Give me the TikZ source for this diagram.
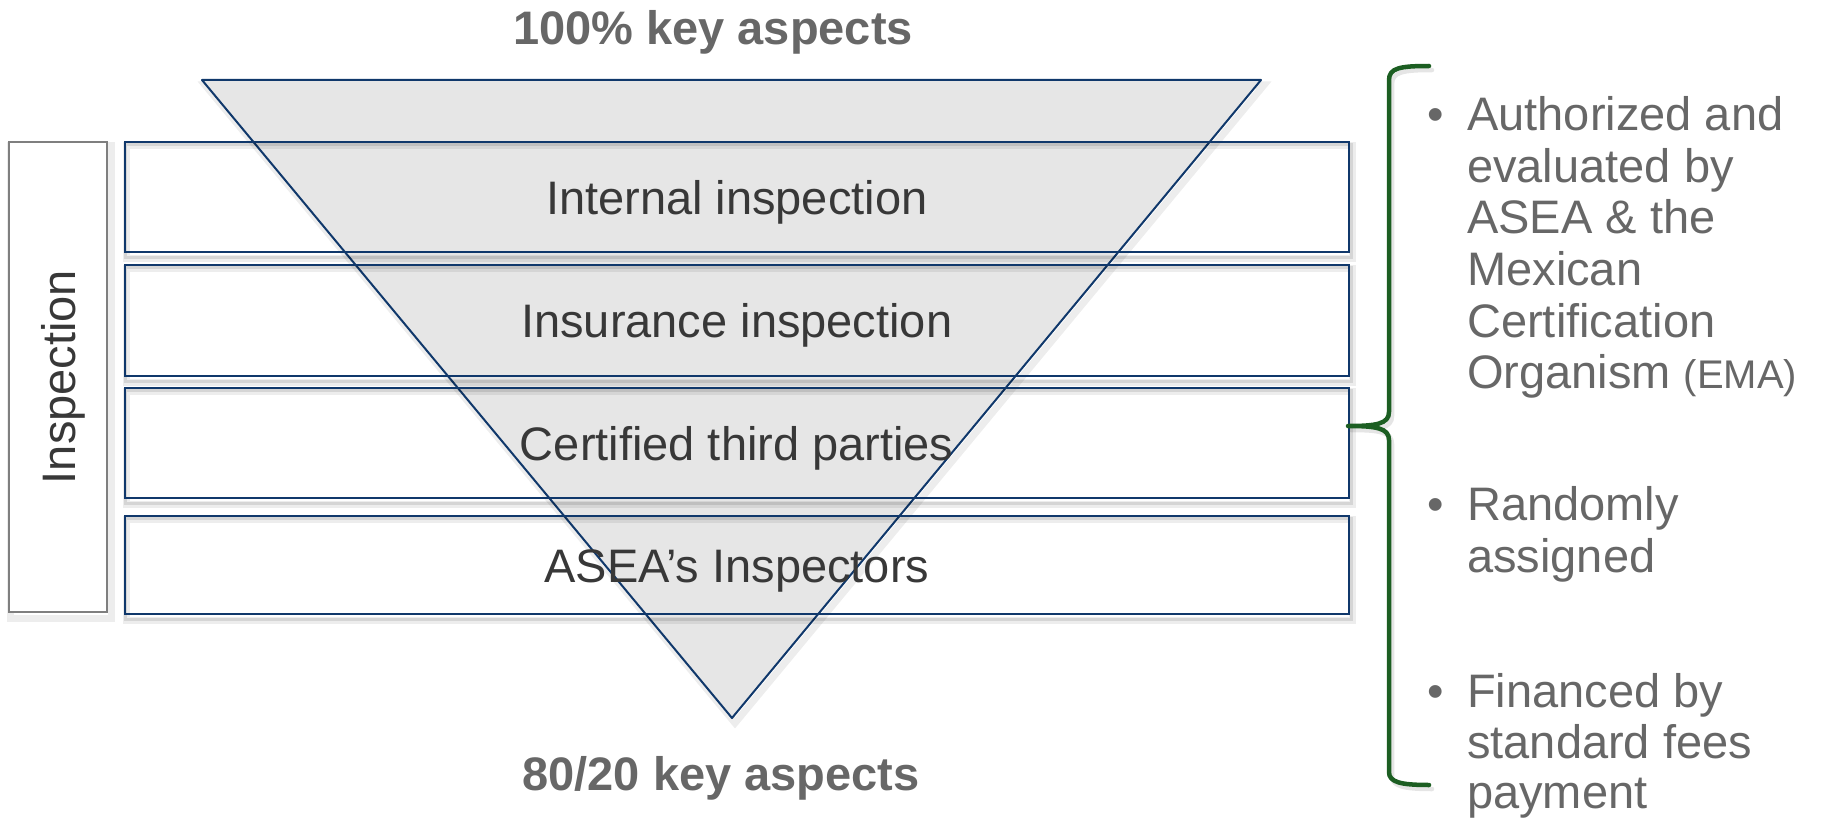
\documentclass[tikz,border=0pt]{standalone}
\usepackage{fontspec}
\setmainfont{Liberation Sans}
\definecolor{navy}{HTML}{10386B}
\definecolor{trifill}{HTML}{E6E6E6}
\definecolor{rowtext}{HTML}{383838}
\definecolor{graytext}{HTML}{676767}
\definecolor{boxgray}{HTML}{7F7F7F}
\definecolor{bracegreen}{HTML}{1C5E22}
\newcommand\bigf{\fontsize{47bp}{52bp}\selectfont}
\newcommand\emaf{\fontsize{40bp}{44bp}\selectfont}
\pgfdeclarelayer{tri}
\pgfdeclarelayer{shad}
\pgfsetlayers{tri,shad,main}
\begin{document}
\begin{tikzpicture}[x=1bp,y=-1bp,
  shadA/.style={draw=black, opacity=0.07, line width=7bp},
  shadB/.style={draw=black, opacity=0.10, line width=3bp},
  rowtxt/.style={font=\bigf, inner sep=0pt, text height=34bp, text depth=0bp},
  rowbox/.style={rowtxt, draw=navy, line width=2.2bp, minimum width=1224bp, text=rowtext},
  inspbox/.style={rowtxt, draw=boxgray, line width=2bp, fill=white, text=rowtext,
     rotate=90, minimum width=470bp, minimum height=98bp},
  headtxt/.style={font=\bigf\bfseries, text=graytext, inner sep=0pt, anchor=base},
  bultxt/.style={font=\bigf, text=graytext, inner sep=0pt, anchor=base west},
  buldot/.style={font=\bigf, text=graytext, inner sep=0pt, anchor=base},
  bracestyle/.style={draw=bracegreen, line width=4.5bp, line cap=round, line join=round}]
\useasboundingbox (0,0) rectangle (1824,819);

% inverted triangle
\coordinate (tl) at (202,80);
\coordinate (tr) at (1261,80);
\coordinate (ap) at (732,718);
\begin{pgfonlayer}{tri}
  \draw[shadA] ([shift={(3,5)}]tl) -- ([shift={(3,5)}]tr) -- ([shift={(3,5)}]ap) -- cycle;
  \filldraw[fill=trifill, draw=navy, line width=2bp, line join=round] (tl) -- (tr) -- (ap) -- cycle;
\end{pgfonlayer}

% headings
\node[headtxt] (top) at (713,45) {100\% key aspects};
\node[headtxt] (bot) at (721,790) {80/20 key aspects};

% rows
\foreach \n/\cy/\h/\t in {r1/197/110bp/Internal inspection,
                           r2/320.5/111bp/Insurance inspection,
                           r3/443/110bp/Certified third parties,
                           r4/565/98bp/ASEA’s Inspectors}{
  \node[rowbox, minimum height=\h] (\n) at (736.75,\cy) {\t};
  \begin{pgfonlayer}{shad}
    \draw[shadA] ([shift={(3,5)}]\n.north west) rectangle ([shift={(3,5)}]\n.south east);
    \draw[shadB] ([shift={(2,4)}]\n.north west) rectangle ([shift={(2,4)}]\n.south east);
  \end{pgfonlayer}
}

% inspection box
\node[inspbox] (insp) at (58,377) {Inspection};
\begin{pgfonlayer}{shad}
  \draw[shadA] ([shift={(3,5)}]insp.north east) rectangle ([shift={(3,5)}]insp.south west);
\end{pgfonlayer}

% brace
\coordinate (tip) at (1348,426);
\begin{pgfonlayer}{shad}
  \draw[bracestyle, draw=black, opacity=0.10, shift={(3,4)}]
    (1429,66) .. controls (1400,66) and (1389,68) .. (1389,80) -- (1389,412)
    .. controls (1389,424) and (1376,426) .. (1348,426)
    .. controls (1376,426) and (1389,428) .. (1389,440) -- (1389,772)
    .. controls (1389,782) and (1400,785) .. (1429,785);
\end{pgfonlayer}
\draw[bracestyle] (1429,66) .. controls (1400,66) and (1389,68) .. (1389,80) -- (1389,412)
    .. controls (1389,424) and (1376,426) .. (tip)
    .. controls (1376,426) and (1389,428) .. (1389,440) -- (1389,772)
    .. controls (1389,782) and (1400,785) .. (1429,785);

% bullets
\node[buldot] (d1) at (1436,130) {•};
\node[buldot] (d2) at (1436,520) {•};
\node[buldot] (d3) at (1436,707) {•};
\node[bultxt] (a1) at (1467,130) {Authorized and};
\node[bultxt] (a2) at (1467,182) {evaluated by};
\node[bultxt] (a3) at (1467,233) {ASEA \& the};
\node[bultxt] (a4) at (1467,285) {Mexican};
\node[bultxt] (a5) at (1467,337) {Certification};
\node[bultxt] (a6) at (1467,388) {Organism {\emaf(EMA)}};
\node[bultxt] (b1) at (1467,520) {Randomly};
\node[bultxt] (b2) at (1467,572) {assigned};
\node[bultxt] (c1) at (1467,707) {Financed by};
\node[bultxt] (c2) at (1467,758) {standard fees};
\node[bultxt] (c3) at (1467,808) {payment};
\end{tikzpicture}
\end{document}
